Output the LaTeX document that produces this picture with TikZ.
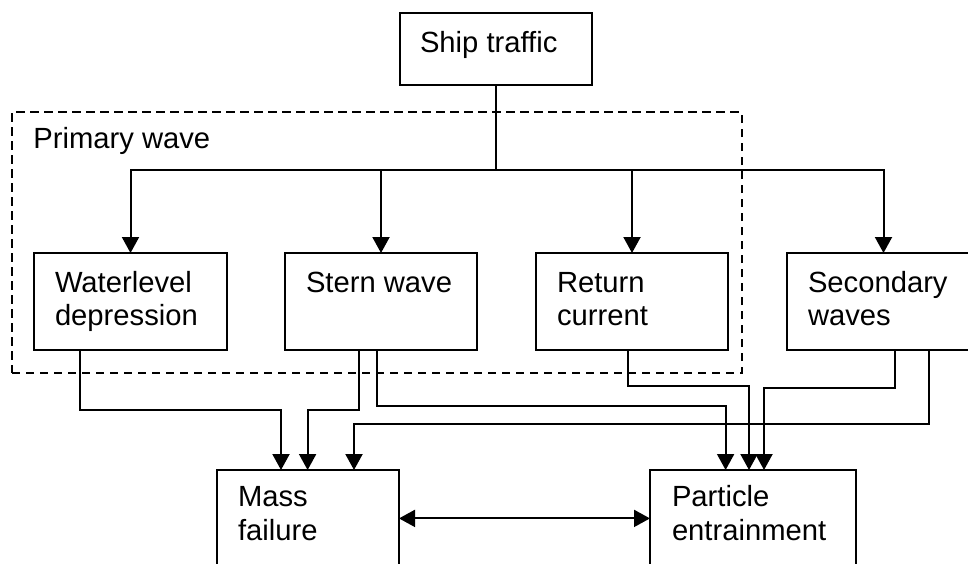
\documentclass[tikz,border=0pt]{standalone}
\usepackage{fontspec}
\setmainfont{Liberation Sans}
\usetikzlibrary{arrows.meta}
% width, height, left pad, first baseline, text
\newcommand\btext[5]{\parbox[c][#2][t]{#1}{\raggedright\leftskip=#3\relax\rule{0pt}{#4}#5}}
\begin{document}
\begin{tikzpicture}[x=0.5pt,y=-0.5pt,
  txt/.style={font=\fontsize{14.6pt}{16.8pt}\selectfont},
  box/.style={draw, line width=1pt, inner sep=0pt, outer sep=0pt, anchor=north west, txt},
  conn/.style={line width=1pt},
  tipA/.tip={Triangle[length=8pt,width=8.5pt]},
  arr/.style={line width=1pt, -tipA},
  darr/.style={line width=1pt, tipA-tipA},
  dbox/.style={draw, line width=1pt, dash pattern=on 4.2pt off 2.8pt, inner sep=0pt, outer sep=0pt, anchor=north west}]
\useasboundingbox (0,0) rectangle (968,563);
\clip (0,0) rectangle (968,563);

% dashed group
\node[dbox, minimum width=364.8pt, minimum height=130.7pt] (prim) at (12,112) {};
\node[txt, anchor=base west, inner sep=0pt] (primlabel) at (33,148) {Primary wave};

% boxes
\node[box] (ship) at (400,13) {\btext{96pt}{36pt}{10pt}{19.5pt}{Ship traffic}};
\node[box] (wl) at (34,253) {\btext{96.5pt}{48.5pt}{10.5pt}{19.5pt}{Waterlevel\\depression}};
\node[box] (stern) at (285,253) {\btext{96pt}{48.5pt}{10.5pt}{19.5pt}{Stern wave}};
\node[box] (ret) at (536,253) {\btext{96pt}{48.5pt}{10.5pt}{19.5pt}{Return\\current}};
\node[box] (sec) at (787,253) {\btext{96.5pt}{48.5pt}{10.5pt}{19.5pt}{Secondary\\waves}};
\node[box] (mass) at (217,470) {\btext{91pt}{60pt}{10.5pt}{18.3pt}{Mass\\failure}};
\node[box] (part) at (650,470) {\btext{103pt}{60pt}{11pt}{18.3pt}{Particle\\entrainment}};

% distribution from ship traffic
\coordinate (bus) at ([yshift=-42.5pt]ship.south);
\draw[conn] (ship.south) -- (bus);
\draw[arr] (bus) -| (wl.north);
\draw[arr] (bus) -| (stern.north);
\draw[arr] (bus) -| (ret.north);
\draw[arr] (bus) -| (sec.north);

% to mass failure
\draw[arr] ([xshift=23pt]wl.south west) -- ++(0pt,-30pt) -| ([xshift=32pt]mass.north west);
\draw[arr] ([xshift=37pt]stern.south west) -- ++(0pt,-30pt) -| ([xshift=45.3pt]mass.north west);
\draw[arr] ([xshift=71pt]sec.south west) -- ++(0pt,-37.2pt) -| ([xshift=68.5pt]mass.north west);

% to particle entrainment
\draw[arr] ([xshift=45.8pt]stern.south west) -- ++(0pt,-27.8pt) -| ([xshift=37.8pt]part.north west);
\draw[arr] ([xshift=45.8pt]ret.south west) -- ++(0pt,-18pt) -| ([xshift=49.5pt]part.north west);
\draw[arr] ([xshift=54pt]sec.south west) -- ++(0pt,-18.8pt) -| ([xshift=57pt]part.north west);

% mutual
\draw[darr] ([yshift=-24.2pt]mass.north east) -- ([yshift=-24.2pt]part.north west);
\end{tikzpicture}
\end{document}
